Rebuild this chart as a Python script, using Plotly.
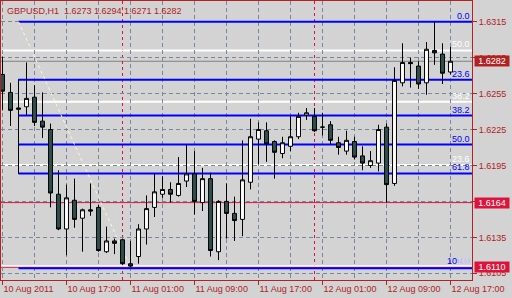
import pandas as pd
import plotly.graph_objects as go

FONT = "Liberation Sans, Arial, sans-serif"

# ---------------- data ----------------
symbol = "GBPUSD,H1"
times = pd.date_range("2011-08-10 09:00", periods=57, freq="h")

opens = [1.6271, 1.6256, 1.6243, 1.6244, 1.6252, 1.6232, 1.6225, 1.6171, 1.6142, 1.6166,
         1.6151, 1.6158, 1.6160, 1.6123, 1.6132, 1.6133, 1.6113, 1.6119, 1.6142, 1.6160,
         1.6171, 1.6175, 1.6170, 1.6182, 1.6188, 1.6164, 1.6184, 1.6123, 1.6165, 1.6155,
         1.6150, 1.6181, 1.6217, 1.6224, 1.6215, 1.6205, 1.6211, 1.6219, 1.6237, 1.6236,
         1.6227, 1.6229, 1.6214, 1.6207, 1.6215, 1.6203, 1.6195, 1.6197, 1.6227, 1.6180,
         1.6264, 1.6281, 1.6278, 1.6264, 1.6291, 1.6288, 1.6273]
highs = [1.6286, 1.6264, 1.6267, 1.6281, 1.6262, 1.6256, 1.6230, 1.6191, 1.6179, 1.6184,
         1.6159, 1.6180, 1.6162, 1.6144, 1.6134, 1.6134, 1.6132, 1.6146, 1.6170, 1.6188,
         1.6186, 1.6181, 1.6202, 1.6212, 1.6207, 1.6193, 1.6189, 1.6166, 1.6180, 1.6169,
         1.6216, 1.6234, 1.6231, 1.6231, 1.6216, 1.6219, 1.6236, 1.6239, 1.6243, 1.6243,
         1.6239, 1.6232, 1.6219, 1.6224, 1.6219, 1.6211, 1.6207, 1.6229, 1.6230, 1.6277,
         1.6297, 1.6285, 1.6282, 1.6298, 1.6315, 1.6297, 1.6294]
lows = [1.6241, 1.6228, 1.6188, 1.6237, 1.6228, 1.6218, 1.6160, 1.6141, 1.6120, 1.6143,
        1.6123, 1.6153, 1.6123, 1.6122, 1.6121, 1.6112, 1.6110, 1.6113, 1.6129, 1.6152,
        1.6168, 1.6164, 1.6169, 1.6177, 1.6154, 1.6157, 1.6119, 1.6116, 1.6134, 1.6132,
        1.6136, 1.6175, 1.6196, 1.6198, 1.6184, 1.6201, 1.6207, 1.6217, 1.6233, 1.6223,
        1.6220, 1.6213, 1.6204, 1.6204, 1.6200, 1.6191, 1.6193, 1.6190, 1.6164, 1.6178,
        1.6261, 1.6260, 1.6259, 1.6254, 1.6279, 1.6263, 1.6271]
closes = [1.6257, 1.6241, 1.6242, 1.6251, 1.6231, 1.6227, 1.6172, 1.6142, 1.6168, 1.6150,
          1.6158, 1.6157, 1.6124, 1.6132, 1.6130, 1.6113, 1.6111, 1.6142, 1.6159, 1.6173,
          1.6175, 1.6171, 1.6180, 1.6188, 1.6165, 1.6184, 1.6124, 1.6165, 1.6155, 1.6149,
          1.6183, 1.6219, 1.6225, 1.6213, 1.6206, 1.6214, 1.6219, 1.6236, 1.6239, 1.6224,
          1.6227, 1.6216, 1.6210, 1.6216, 1.6202, 1.6197, 1.6199, 1.6225, 1.6179, 1.6266,
          1.6281, 1.6280, 1.6263, 1.6292, 1.6289, 1.6272, 1.6282]

x_tick_labels = ["10 Aug 2011", "10 Aug 17:00", "11 Aug 01:00", "11 Aug 09:00",
                 "11 Aug 17:00", "12 Aug 01:00", "12 Aug 09:00", "12 Aug 17:00"]
x_tick_positions = list(times[::8])
x_minor_grid = list(times[4::8])
day_separators = [pd.Timestamp("2011-08-11 00:00"), pd.Timestamp("2011-08-12 00:00")]
y_ticks = [1.6105, 1.6135, 1.6165, 1.6195, 1.6225, 1.6255, 1.6285, 1.6315]

fib_levels = [0.0, 23.6, 38.2, 50.0, 61.8, 100.0]
blue_fib_high, blue_fib_low = 1.6315, 1.6110        # anchored at bars 2 and 16
blue_fib_start, blue_fib_end = 2, 16
white_fib_low, white_fib_high = 1.6110, 1.6472
level_lines = [1.6164, 1.6110]

# ---------------- style ----------------
BG = "#D3D3D3"
AXIS = "#B22222"
GRID = "#778899"
LEVEL = "#DC143C"
BULL_FILL = "white"
BEAR_FILL = "#2F4F4F"

y_range = [1.60994, 1.63323]
x_range = [times[0] - pd.Timedelta(minutes=11.25), times[0] + pd.Timedelta(hours=58.6875)]

fig = go.Figure()
fig.add_trace(go.Candlestick(
    x=times, open=opens, high=highs, low=lows, close=closes,
    increasing=dict(fillcolor=BULL_FILL, line=dict(color="black", width=1)),
    decreasing=dict(fillcolor=BEAR_FILL, line=dict(color="black", width=1)),
    showlegend=False, hoverinfo="skip",
))

shapes = []
annotations = []


def hline(price, color, width, x0=None, px_offset=0.0, dash=None):
    """Horizontal line at a price; optional pixel offset so coincident lines stay visible."""
    line = dict(color=color, width=width)
    if dash:
        line["dash"] = dash
    d = dict(type="line", yref="y", line=line, layer="between")
    if x0 is None:
        d.update(xref="paper", x0=0, x1=1)
    else:
        d.update(xref="x", x0=x0, x1=x_range[1])
    if px_offset:
        d.update(ysizemode="pixel", yanchor=price, y0=px_offset, y1=px_offset)
    else:
        d.update(y0=price, y1=price)
    return d


# bid line
bid = closes[-1]
shapes.append(hline(bid, "#808080", 1))

# day separators
for d in day_separators:
    shapes.append(dict(type="line", xref="x", x0=d, x1=d, yref="paper", y0=0, y1=1,
                       line=dict(color=LEVEL, width=1, dash="3px,3px"), layer="between"))

# white fibonacci (drawn first, nudged up where it coincides with other lines)
rng_w = white_fib_high - white_fib_low
for lv in fib_levels:
    p = white_fib_low + lv / 100 * rng_w
    if p > y_range[1]:
        continue
    off = 1.0 if abs(p - level_lines[1]) < 1e-9 else 0.0
    shapes.append(hline(p, "white", 2, px_offset=off))

# red level lines
for lv in level_lines:
    shapes.append(hline(lv, LEVEL, 1))

# blue fibonacci (nudged down where it coincides with the red line)
rng_b = blue_fib_high - blue_fib_low
for lv in fib_levels:
    p = blue_fib_high - lv / 100 * rng_b
    off = -1.0 if abs(p - level_lines[1]) < 1e-9 else 0.0
    shapes.append(hline(p, "#0000FF", 2, x0=times[blue_fib_start], px_offset=off))
    annotations.append(dict(x=1, xref="paper", xanchor="right", xshift=-1, y=p, yref="y",
                            yanchor="bottom", text=f"{lv:.1f}", showarrow=False, borderpad=0,
                            font=dict(family=FONT, size=9, color="#0000FF")))

# fib trend line (dotted)
shapes.append(dict(type="line", xref="x", yref="y",
                   x0=times[blue_fib_start], y0=blue_fib_high,
                   x1=times[blue_fib_end], y1=blue_fib_low,
                   line=dict(color="#FFFACD", width=1, dash="dot"), layer="between"))

# white fib labels (on top of the blue ones)
for lv in fib_levels:
    p = white_fib_low + lv / 100 * rng_w
    if p > y_range[1]:
        continue
    annotations.append(dict(x=1, xref="paper", xanchor="right", xshift=-1, y=p, yref="y",
                            yanchor="bottom", text=f"{lv:.1f}", showarrow=False, borderpad=0,
                            font=dict(family=FONT, size=9, color="white")))

# price boxes on the axis
for price, col in [(bid, AXIS), (level_lines[0], LEVEL), (level_lines[1], LEVEL)]:
    annotations.append(dict(x=1, xref="paper", xanchor="left", xshift=2, y=price, yref="y",
                            yanchor="middle", text=f"{price:.4f}", showarrow=False,
                            bgcolor=col, borderpad=1, width=32, height=8,
                            font=dict(family=FONT, size=9, color="white")))

# title
title = (f"{symbol}\u00a0\u00a0{opens[-1]:.4f}\u00a0{highs[-1]:.4f}\u00a0"
         f"{lows[-1]:.4f}\u00a0{closes[-1]:.4f}")
annotations.append(dict(x=0, xref="paper", xanchor="left", xshift=5, y=1, yref="paper",
                        yanchor="top", yshift=-4, text=title, showarrow=False, borderpad=0,
                        font=dict(family=FONT, size=9, color=AXIS)))

fig.update_layout(
    width=512, height=298,
    margin=dict(l=1, r=40, t=1, b=18),
    paper_bgcolor=BG, plot_bgcolor=BG,
    font=dict(family=FONT, size=9, color=AXIS),
    shapes=shapes, annotations=annotations,
    showlegend=False,
    boxgap=0.3, boxgroupgap=0.3,
)
fig.update_xaxes(
    range=x_range, rangeslider=dict(visible=False),
    tickmode="array", tickvals=x_tick_positions, ticktext=x_tick_labels,
    ticklabelposition="outside right",
    ticks="outside", ticklen=4, tickcolor=AXIS, tickfont=dict(family=FONT, size=9, color=AXIS),
    showgrid=True, gridcolor=GRID, griddash="4px,3px", gridwidth=1,
    minor=dict(tickmode="array", tickvals=x_minor_grid, showgrid=True, gridcolor=GRID,
               griddash="4px,3px", ticks=""),
    showline=True, linecolor=AXIS, linewidth=1, mirror=True, zeroline=False,
)
fig.update_yaxes(
    range=y_range, side="right",
    tickmode="array", tickvals=y_ticks, tickformat=".4f",
    ticks="outside", ticklen=4, tickcolor=AXIS, tickfont=dict(family=FONT, size=9, color=AXIS),
    showgrid=True, gridcolor=GRID, griddash="4px,3px", gridwidth=1,
    showline=True, linecolor=AXIS, linewidth=1, mirror=True, zeroline=False,
)

fig.write_html("out.html")
